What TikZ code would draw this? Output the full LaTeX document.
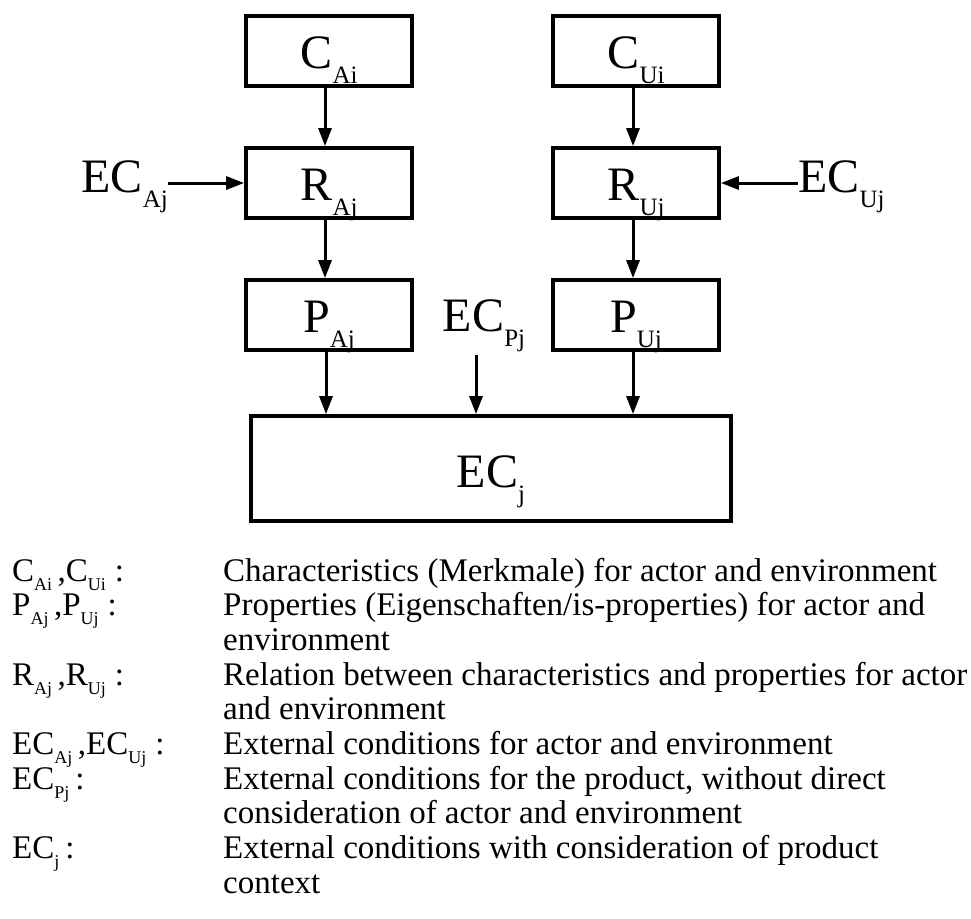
\documentclass[tikz,border=0pt]{standalone}
\usepackage{fontspec}
\setmainfont{Liberation Serif}
\usetikzlibrary{arrows.meta}

% big symbol with a deep, small subscript (block labels)
\newcommand\bsub[2]{#1\raisebox{-15pt}{\fontsize{25}{25}\selectfont #2}}
% legend symbol with a small subscript
\newcommand\lsub[2]{#1\raisebox{-9pt}{\fontsize{18}{18}\selectfont #2}}

\begin{document}
\begin{tikzpicture}[x=1pt,y=-1pt,
  blk/.style={draw, line width=3.8pt, inner sep=0pt, minimum width=166pt, minimum height=70pt},
  big/.style={inner sep=0pt, font=\fontsize{48}{52}\selectfont},
  arr/.style={line width=3pt, -{Triangle[length=18pt,width=13pt]}},
  leg/.style={inner sep=0pt, anchor=base west, font=\fontsize{33}{35}\selectfont}]

\useasboundingbox (0,0) rectangle (971,918);

% blocks
\node[blk] (ca) at (329,51) {};
\node[blk] (ra) at (329,183) {};
\node[blk] (pa) at (329,315) {};
\node[blk] (cu) at (636,51) {};
\node[blk] (ru) at (636,183) {};
\node[blk] (pu) at (636,315) {};
\node[blk, minimum width=480pt, minimum height=105pt] (ec) at (491,468.5) {};

% block labels
\node[big, anchor=base] (ca-t) at (329,68) {\bsub{C}{Ai}};
\node[big, anchor=base] (ra-t) at (329,200) {\bsub{R}{Aj}};
\node[big, anchor=base] (pa-t) at (329,332) {\bsub{P}{Aj}};
\node[big, anchor=base] (cu-t) at (636,68) {\bsub{C}{Ui}};
\node[big, anchor=base] (ru-t) at (636,200) {\bsub{R}{Uj}};
\node[big, anchor=base] (pu-t) at (636,332) {\bsub{P}{Uj}};
\node[big, anchor=base] (ec-t) at (491,487) {\bsub{EC}{j}};

% external condition inputs
\node[big, anchor=base east] (ecaj) at (168,192) {\bsub{EC}{Aj}};
\node[big, anchor=base west] (ecuj) at (798,192) {\bsub{EC}{Uj}};
\node[big, anchor=base] (ecpj) at (484,331) {\bsub{EC}{Pj}};

% connectors
\draw[arr] ([xshift=-4pt]ca.south) -- ([xshift=-4pt]ra.north);
\draw[arr] ([xshift=-4pt]ra.south) -- ([xshift=-4pt]pa.north);
\draw[arr] ([xshift=-3pt]cu.south) -- ([xshift=-3pt]ru.north);
\draw[arr] ([xshift=-3pt]ru.south) -- ([xshift=-3pt]pu.north);
\draw[arr] ([xshift=-3pt]pa.south) -- ([xshift=-3pt]pa.south |- ec.north);
\draw[arr] ([xshift=-3pt]pu.south) -- ([xshift=-3pt]pu.south |- ec.north);
\draw[arr, shorten <=3pt] ([xshift=-8pt]ecpj.south) -- ([xshift=-8pt]ecpj.south |- ec.north);
\draw[arr] (ecaj.east |- ra.west) -- (ra.west);
\draw[arr] (ecuj.west |- ru.east) -- (ru.east);

% legend: symbols
\node[leg] (k1) at (12,581)   {\lsub{C}{Ai}\,,\lsub{C}{Ui}\hspace{9pt}:};
\node[leg] (k2) at (12,615.7) {\lsub{P}{Aj}\,,\lsub{P}{Uj}\hspace{9pt}:};
\node[leg] (k3) at (12,685.1) {\lsub{R}{Aj}\,,\lsub{R}{Uj}\hspace{9pt}:};
\node[leg] (k4) at (12,754.5) {\lsub{EC}{Aj}\,,\lsub{EC}{Uj}\hspace{9pt}:};
\node[leg] (k5) at (12,789.2) {\lsub{EC}{Pj}\hspace{6pt}:};
\node[leg] (k6) at (12,858.6) {\lsub{EC}{j}\hspace{6pt}:};

% legend: descriptions
\node[leg] (d1)  at (223,581)   {Characteristics (Merkmale) for actor and environment};
\node[leg] (d2)  at (223,615.7) {Properties (Eigenschaften/is-properties) for actor and};
\node[leg] (d3)  at (223,650.4) {environment};
\node[leg] (d4)  at (223,685.1) {Relation between characteristics and properties for actor};
\node[leg] (d5)  at (223,719.8) {and environment};
\node[leg] (d6)  at (223,754.5) {External conditions for actor and environment};
\node[leg] (d7)  at (223,789.2) {External conditions for the product, without direct};
\node[leg] (d8)  at (223,823.9) {consideration of actor and environment};
\node[leg] (d9)  at (223,858.6) {External conditions with consideration of product};
\node[leg] (d10) at (223,893.3) {context};

\end{tikzpicture}
\end{document}
